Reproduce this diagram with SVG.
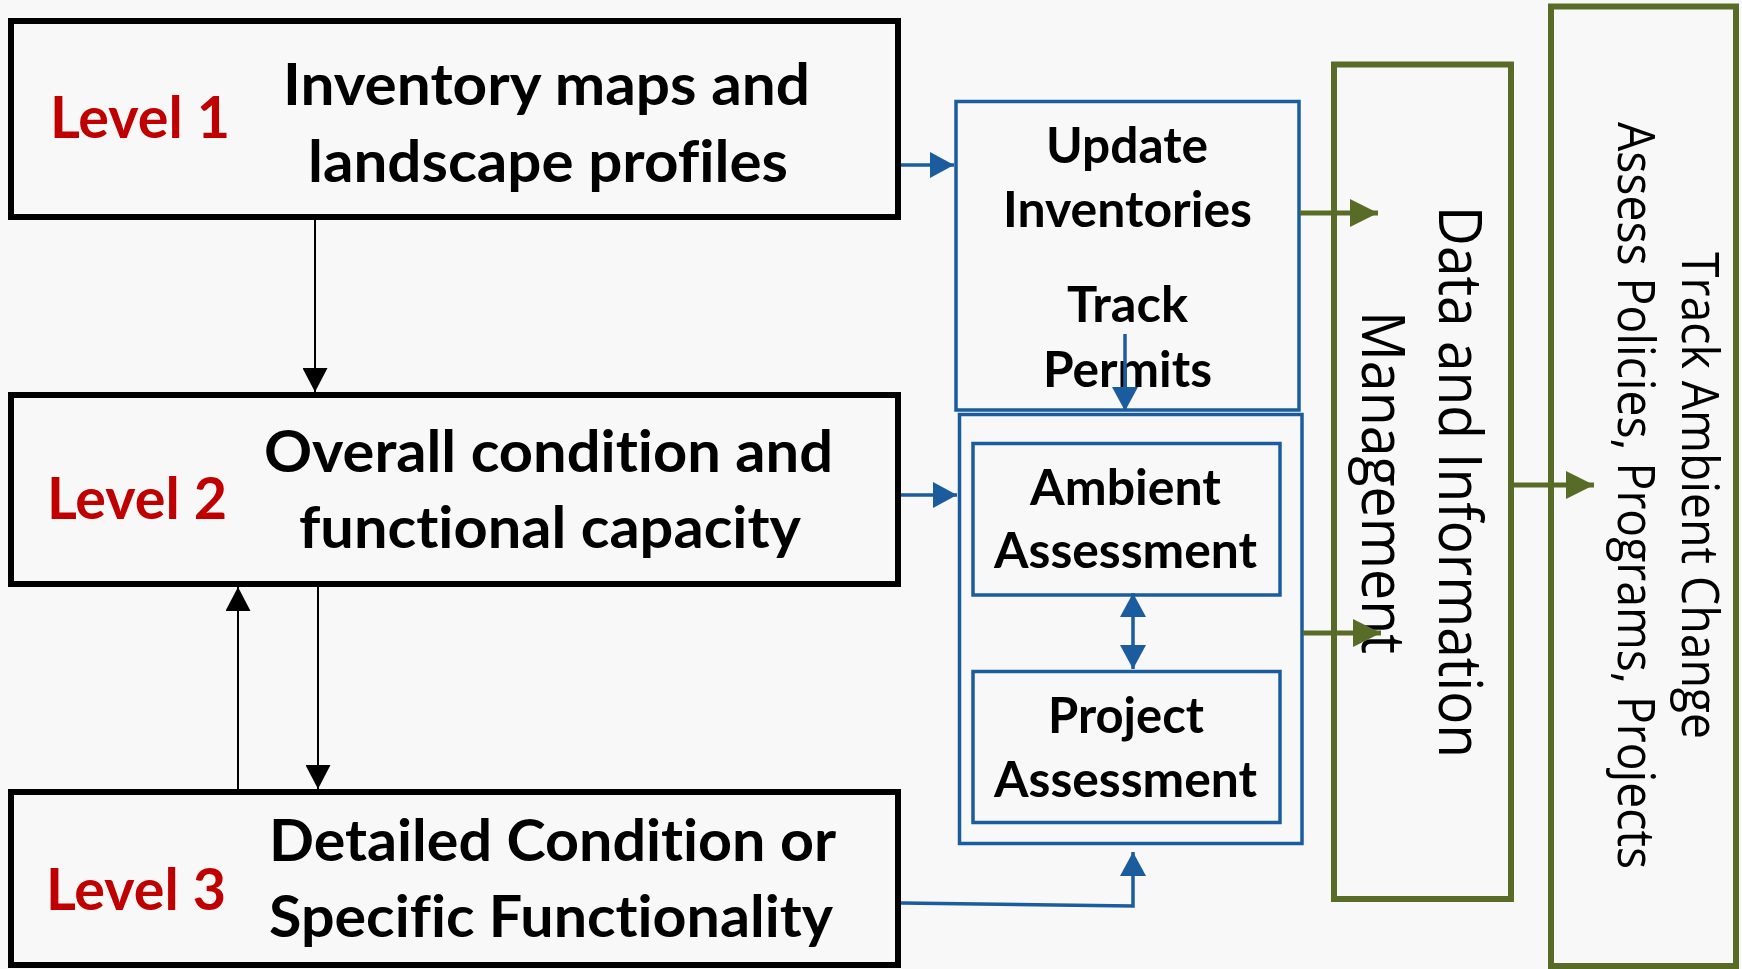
<svg xmlns="http://www.w3.org/2000/svg" width="1742" height="969" viewBox="0 0 1742 969">
<defs>
<style>
.bg{fill:#F8F8F8}
text{font-variant-ligatures:none;font-feature-settings:"liga" 0,"dlig" 0}
.lvl{fill:none;stroke:#000;stroke-width:6}
.blue{fill:none;stroke:#1A5C9E;stroke-width:3.5}
.green{fill:none;stroke:#596C27;stroke-width:6}
.red{font-family:Lato,"Open Sans",sans-serif;font-weight:bold;font-size:58px;fill:#C00000}
.big{font-family:Lato,"Open Sans",sans-serif;font-weight:bold;font-size:57px;fill:#000}
.mid{font-family:Lato,"Open Sans",sans-serif;font-weight:bold;font-size:49px;fill:#000}
.vt1{font-family:"Open Sans","Noto Sans",sans-serif;font-size:60px;fill:#000}
.vt2{font-family:"Open Sans","Noto Sans",sans-serif;font-size:52px;fill:#000}
.cb{fill:none;stroke:#000;stroke-width:2}
.cu{fill:none;stroke:#1A5C9E;stroke-width:3.5}
.cg{fill:none;stroke:#596C27;stroke-width:5}
</style>
<marker id="ab" markerUnits="userSpaceOnUse" markerWidth="24" markerHeight="25" refX="24" refY="12.5" orient="auto"><path d="M0,0 L24,12.5 L0,25 z" fill="#000"/></marker>
<marker id="au" markerUnits="userSpaceOnUse" markerWidth="24" markerHeight="26" refX="24" refY="13" orient="auto"><path d="M0,0 L24,13 L0,26 z" fill="#1A5C9E"/></marker>
<marker id="aus" markerUnits="userSpaceOnUse" markerWidth="24" markerHeight="26" refX="0" refY="13" orient="auto"><path d="M24,0 L0,13 L24,26 z" fill="#1A5C9E"/></marker>
<marker id="ag" markerUnits="userSpaceOnUse" markerWidth="28" markerHeight="28" refX="28" refY="14" orient="auto"><path d="M0,0 L28,14 L0,28 z" fill="#596C27"/></marker>
</defs>
<rect class="bg" x="0" y="0" width="1742" height="969"/>

<g id="level1">
<rect class="lvl" x="11" y="21" width="887" height="196"/>
<text class="red" x="50" y="138" textLength="180" lengthAdjust="spacingAndGlyphs">Level 1</text>
<text class="big" x="283" y="105" textLength="527" lengthAdjust="spacingAndGlyphs">Inventory maps and</text>
<text class="big" x="308" y="182" textLength="480" lengthAdjust="spacingAndGlyphs">landscape profiles</text>
</g>

<g id="level2">
<rect class="lvl" x="11" y="395" width="887" height="189"/>
<text class="red" x="47" y="519" textLength="180" lengthAdjust="spacingAndGlyphs">Level 2</text>
<text class="big" x="264" y="472" textLength="569" lengthAdjust="spacingAndGlyphs">Overall condition and</text>
<text class="big" x="299" y="548" textLength="502" lengthAdjust="spacingAndGlyphs">functional capacity</text>
</g>

<g id="level3">
<rect class="lvl" x="11" y="792" width="887" height="173"/>
<text class="red" x="46" y="910" textLength="180" lengthAdjust="spacingAndGlyphs">Level 3</text>
<text class="big" x="269" y="861" textLength="567" lengthAdjust="spacingAndGlyphs">Detailed Condition or</text>
<text class="big" x="269" y="937" textLength="564" lengthAdjust="spacingAndGlyphs">Specific Functionality</text>
</g>

<g id="update">
<rect class="blue" x="956" y="101.5" width="343" height="308.5"/>
<text class="mid" x="1046" y="163" textLength="162" lengthAdjust="spacingAndGlyphs">Update</text>
<text class="mid" x="1003" y="227" textLength="249" lengthAdjust="spacingAndGlyphs">Inventories</text>
<text class="mid" x="1067" y="322" textLength="121" lengthAdjust="spacingAndGlyphs">Track</text>
<text class="mid" x="1043" y="387" textLength="169" lengthAdjust="spacingAndGlyphs">Permits</text>
</g>

<g id="assessments">
<rect class="blue" x="959.5" y="414.5" width="342.5" height="429"/>
</g>

<g id="ambient">
<rect class="blue" x="973" y="443.5" width="307" height="151.5"/>
<text class="mid" x="1030" y="505" textLength="191" lengthAdjust="spacingAndGlyphs">Ambient</text>
<text class="mid" x="994" y="568" textLength="263" lengthAdjust="spacingAndGlyphs">Assessment</text>
</g>

<g id="project">
<rect class="blue" x="973" y="671.5" width="307" height="151"/>
<text class="mid" x="1048" y="733" textLength="156" lengthAdjust="spacingAndGlyphs">Project</text>
<text class="mid" x="994" y="797" textLength="263" lengthAdjust="spacingAndGlyphs">Assessment</text>
</g>

<g id="data">
<rect class="green" x="1334" y="64.5" width="177" height="834.5"/>
<text class="vt1" transform="translate(1439,206) rotate(90)" x="0" y="0" textLength="552" lengthAdjust="spacingAndGlyphs">Data and Information</text>
<text class="vt1" transform="translate(1362,311) rotate(90)" x="0" y="0" textLength="343" lengthAdjust="spacingAndGlyphs">Management</text>
</g>

<g id="track">
<rect class="green" x="1551" y="6.5" width="185" height="959.5"/>
<text class="vt2" transform="translate(1682,252) rotate(90)" x="0" y="0" textLength="487" lengthAdjust="spacingAndGlyphs">Track Ambient Change</text>
<text class="vt2" transform="translate(1618,122) rotate(90)" x="0" y="0" textLength="747" lengthAdjust="spacingAndGlyphs">Assess Policies, Programs, Projects</text>
</g>

<g id="connectors">
<line class="cb" x1="315" y1="220" x2="315" y2="392" marker-end="url(#ab)"/>
<line class="cb" x1="238" y1="789" x2="238" y2="587" marker-end="url(#ab)"/>
<line class="cb" x1="318" y1="587" x2="318" y2="789" marker-end="url(#ab)"/>
<line class="cu" x1="901" y1="165" x2="954" y2="165" marker-end="url(#au)"/>
<line class="cu" x1="901" y1="495" x2="957" y2="495" marker-end="url(#au)"/>
<polyline class="cu" points="901,903 1133,906 1133,852" marker-end="url(#au)"/>
<line class="cu" x1="1125" y1="334" x2="1125" y2="411" marker-end="url(#au)"/>
<line class="cu" x1="1133" y1="593" x2="1133" y2="669" marker-start="url(#aus)" marker-end="url(#au)"/>
<line class="cg" x1="1300" y1="213" x2="1378" y2="213" marker-end="url(#ag)"/>
<line class="cg" x1="1303" y1="633" x2="1381" y2="633" marker-end="url(#ag)"/>
<line class="cg" x1="1514" y1="485" x2="1594" y2="485" marker-end="url(#ag)"/>
</g>
</svg>
